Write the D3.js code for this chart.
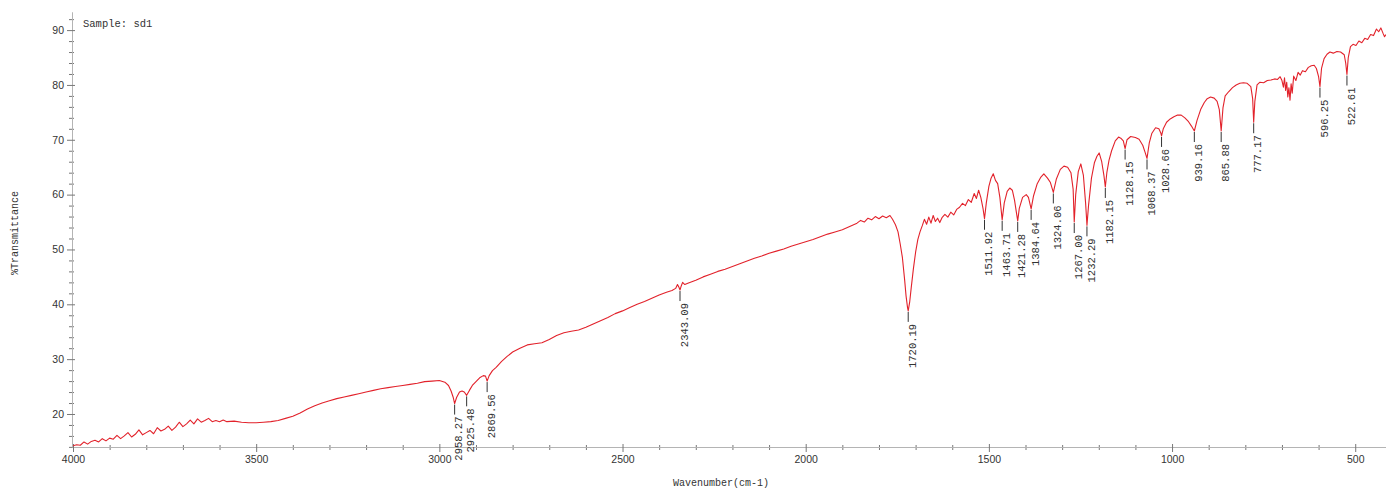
<!DOCTYPE html>
<html>
<head>
<meta charset="utf-8">
<script src="https://cdn.jsdelivr.net/npm/d3@7"></script>
<style>
body { margin: 0; background: #fff; }
svg { display: block; }
</style>
</head>
<body>
<svg width="1386" height="490"></svg>
<script>
// spectrum, wavenumber (cm-1) -> %T
const wavenumbers = [
    4000,3990,3980,3970,3960,3950,3940,3930,3920,3910,3900,3890,3880,3870,3860,3850,3840,3830,3820,3810,
    3800,3790,3780,3770,3760,3750,3740,3730,3720,3710,3700,3690,3680,3670,3660,3650,3640,3630,3620,3610,
    3600,3590,3580,3560,3540,3520,3500,3480,3460,3440,3420,3400,3380,3360,3340,3320,3300,3280,3260,3240,
    3220,3200,3180,3160,3140,3120,3100,3080,3060,3040,3020,3000,2985,2975,2968,2962,2958.27,2953,2945,2938,
    2932,2925.48,2918,2910,2900,2890,2880,2874,2869.56,2864,2855,2845,2830,2815,2800,2780,2760,2740,2720,2700,
    2680,2660,2640,2620,2600,2580,2560,2540,2520,2500,2480,2460,2440,2420,2400,2380,2365,2355,2350,2346,
    2343.09,2340,2336,2330,2320,2300,2280,2260,2240,2220,2200,2180,2160,2140,2120,2100,2080,2060,2040,2020,
    2000,1980,1960,1940,1920,1900,1880,1860,1850,1840,1830,1820,1810,1800,1790,1780,1770,1763,1755,1748,
    1742,1736,1730,1726,1722,1720.19,1716,1712,1706,1700,1694,1688,1682,1676,1670,1664,1658,1652,1646,1640,
    1634,1628,1620,1612,1604,1596,1588,1580,1572,1564,1556,1548,1540,1534,1528,1522,1516,1511.92,1507,1500,
    1494,1488,1482,1476,1470,1463.71,1458,1450,1443,1436,1430,1425,1421.28,1417,1408,1398,1392,1384.64,1378,1368,
    1358,1350,1340,1332,1324.06,1316,1305,1295,1285,1276,1270,1267,1263,1256,1249,1242,1236,1232.29,1228,1220,
    1212,1205,1199,1192,1186,1182.15,1178,1172,1165,1155,1146,1140,1133,1128.15,1123,1113,1100,1090,1080,1074,
    1068.37,1062,1055,1045,1036,1031,1028.66,1024,1015,1005,995,985,975,965,955,947,939.16,932,922,912,
    904,895,885,877,871,865.88,861,855,845,835,825,815,805,795,785,780,777.17,774,768,760,
    750,740,730,720,712,705,700,696,693,690,687,684,681,678,675,672,668,662,656,650,
    644,636,628,620,612,606,600,596.25,592,585,577,569,560,550,540,530,526,522.61,519,513,
    506,498,490,482,474,466,458,450,442,436,430,424,420,416
];
const transmittance = [
    14.2,14.4,14.3,14.9,14.5,15.0,15.2,14.9,15.5,15.1,15.6,15.4,16.1,15.5,16.0,16.6,15.8,16.3,17.1,16.2,
    16.6,17.0,16.4,17.5,16.9,17.2,17.8,17.0,17.6,18.5,17.7,18.2,18.9,18.2,19.1,18.5,18.8,19.2,18.6,18.8,
    18.6,18.9,18.6,18.7,18.5,18.4,18.4,18.5,18.6,18.8,19.2,19.6,20.2,20.9,21.5,22.0,22.4,22.8,23.1,23.4,
    23.7,24.0,24.3,24.6,24.8,25.0,25.2,25.4,25.6,25.9,26.0,26.1,25.8,25.2,24.2,23.0,21.9,23.0,24.0,24.2,
    24.0,23.4,24.3,25.2,25.9,26.6,27.0,26.9,26.0,27.0,27.9,28.5,29.6,30.5,31.3,32.0,32.6,32.8,33.0,33.6,
    34.3,34.8,35.1,35.3,35.8,36.4,37.0,37.6,38.3,38.8,39.4,40.0,40.5,41.1,41.7,42.2,42.5,42.9,43.6,43.1,
    42.6,43.3,44.0,43.6,43.9,44.4,45.0,45.5,46.0,46.4,46.9,47.4,47.9,48.4,48.8,49.3,49.7,50.1,50.6,51.0,
    51.4,51.8,52.3,52.8,53.2,53.6,54.2,54.8,55.3,55.0,55.7,55.4,56.0,55.6,56.1,55.8,56.2,55.5,54.5,53.2,
    51.0,48.5,44.5,41.5,39.4,38.8,40.5,43.0,46.5,49.5,51.8,53.2,54.3,55.5,54.6,55.9,54.8,56.2,55.1,55.7,
    54.9,55.8,56.4,55.9,56.8,56.3,57.3,57.7,58.4,58.0,59.1,58.6,60.2,59.3,60.8,59.5,57.5,55.6,58.5,61.5,
    63.0,63.8,62.6,62.0,59.5,55.4,58.5,60.6,61.2,60.8,59.0,56.8,55.2,57.5,59.5,60.0,59.5,57.4,59.8,62.0,
    63.2,63.8,63.0,62.2,60.4,62.8,64.6,65.2,65.0,64.0,61.0,55.0,60.0,64.2,65.6,63.5,58.5,54.4,58.0,63.0,
    65.8,67.0,67.6,66.0,63.5,61.4,64.0,66.3,68.0,69.8,70.5,70.3,69.8,68.4,70.0,70.6,70.4,70.1,69.0,67.8,
    66.6,69.5,71.2,72.2,72.0,71.3,70.7,72.0,73.2,73.8,74.2,74.5,74.5,74.0,73.3,72.5,71.6,73.5,75.5,76.8,
    77.5,77.8,77.6,77.0,75.5,71.6,75.8,78.0,78.8,79.5,80.0,80.3,80.4,80.3,79.7,77.5,73.2,77.0,80.0,80.5,
    80.4,80.8,80.9,81.1,81.0,81.5,80.8,79.6,81.3,79.0,80.5,77.8,79.5,77.2,80.2,78.5,81.6,80.8,82.3,81.8,
    82.6,82.4,83.2,83.5,83.6,83.0,81.5,79.7,83.0,84.8,85.6,86.0,85.8,86.1,86.0,85.5,84.0,81.9,85.0,87.0,
    87.4,87.2,88.0,87.7,88.5,88.3,89.2,89.0,90.2,89.7,90.4,89.4,88.8,89.2
];
const peakLabels = [
    '2958.27','2925.48','2869.56','2343.09','1720.19','1511.92','1463.71','1421.28','1384.64','1324.06',
    '1267.00','1232.29','1182.15','1128.15','1068.37','1028.66','939.16','865.88','777.17','596.25','522.61'
];
const xTicks = [4000, 3500, 3000, 2500, 2000, 1500, 1000, 500];
const yTicks = [20, 30, 40, 50, 60, 70, 80, 90];

const svg = d3.select('svg');
const width = +svg.attr('width');
const height = +svg.attr('height');

const mono = 'Liberation Mono, DejaVu Sans Mono, monospace';

const render = () => {
    const xScale = d3.scaleLinear().domain([4000, 416]).range([73, 1386]);
    const yScale = d3.scaleLinear().domain([13.98, 93.3]).range([447, 12]);

    // x axis, major + minor
    const xMinor = d3.range(3900, 416, -100).filter(v => v % 500 !== 0);
    const gxMinor = svg.append('g').attr('transform', 'translate(0,447)')
        .call(d3.axisBottom(xScale).tickValues(xMinor).tickSize(3).tickSizeOuter(0).tickFormat(''));
    gxMinor.selectAll('.tick line').attr('y1', -2);

    const gx = svg.append('g').attr('transform', 'translate(0,447)')
        .call(d3.axisBottom(xScale).tickValues(xTicks).tickSize(5).tickSizeOuter(0).tickPadding(4)
            .tickFormat(d3.format('d')));
    gx.selectAll('.tick line').attr('y1', -3);

    // y axis, major + minor
    const yMinor = d3.range(14, 94, 2).filter(v => v % 10 !== 0);
    const gyMinor = svg.append('g').attr('transform', 'translate(72,0)')
        .call(d3.axisLeft(yScale).tickValues(yMinor).tickSize(3).tickSizeOuter(0).tickFormat(''));
    gyMinor.selectAll('.tick line').attr('x1', 2);

    const gy = svg.append('g').attr('transform', 'translate(72,0)')
        .call(d3.axisLeft(yScale).tickValues(yTicks).tickSize(5).tickSizeOuter(0).tickPadding(3));
    gy.selectAll('.tick line').attr('x1', 3);

    svg.selectAll('.domain').attr('stroke', '#b4b4b4');
    svg.selectAll('.tick line').attr('stroke', '#777');
    svg.selectAll('.tick text')
        .attr('fill', '#333')
        .style('font-family', 'Liberation Sans, Arial, sans-serif')
        .style('font-size', '10.5px');

    // spectrum
    const data = wavenumbers.map((w, i) => [w, transmittance[i]]);
    svg.append('clipPath').attr('id', 'plot')
        .append('rect').attr('x', 73).attr('y', 0).attr('width', width - 73).attr('height', 447);

    svg.append('path')
        .datum(data)
        .attr('clip-path', 'url(#plot)')
        .attr('fill', 'none')
        .attr('stroke', '#e2222b')
        .attr('stroke-width', 1.1)
        .attr('stroke-linejoin', 'round')
        .attr('d', d3.line().x(d => xScale(d[0])).y(d => yScale(d[1])));

    // peak picks
    const peaks = peakLabels.map(label => {
        const w = +label;
        const i = d3.minIndex(wavenumbers, v => Math.abs(v - w));
        return { label, w, t: transmittance[i] };
    });

    const pk = svg.append('g').selectAll('g').data(peaks).enter().append('g');
    pk.append('line')
        .attr('x1', d => xScale(d.w)).attr('x2', d => xScale(d.w))
        .attr('y1', d => yScale(d.t) + 1)
        .attr('y2', d => yScale(d.t) + 11)
        .attr('stroke', '#333')
        .attr('stroke-width', 1);
    pk.append('text')
        .attr('transform', d => `translate(${xScale(d.w) + 4},${yScale(d.t) + 13}) rotate(-90)`)
        .attr('text-anchor', 'end')
        .attr('dy', '0.35em')
        .attr('fill', '#333')
        .style('font-family', mono)
        .style('font-size', '10.5px')
        .text(d => d.label);

    // labels
    svg.append('text')
        .attr('x', 83).attr('y', 27)
        .attr('fill', '#333')
        .style('font-family', mono)
        .style('font-size', '10.5px')
        .text('Sample: sd1');

    svg.append('text')
        .attr('x', 721).attr('y', 486)
        .attr('text-anchor', 'middle')
        .attr('fill', '#333')
        .style('font-family', mono)
        .style('font-size', '10px')
        .text('Wavenumber(cm-1)');

    svg.append('text')
        .attr('transform', 'translate(18,233) rotate(-90)')
        .attr('text-anchor', 'middle')
        .attr('fill', '#333')
        .style('font-family', mono)
        .style('font-size', '10px')
        .text('%Transmittance');
};

render();
</script>
</body>
</html>
